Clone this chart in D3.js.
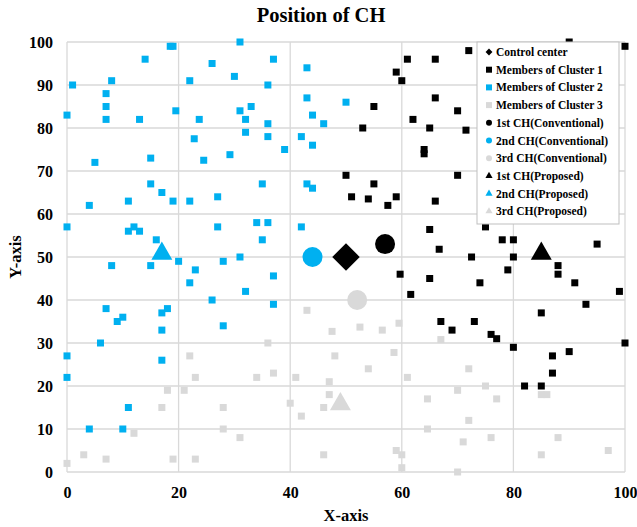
<!DOCTYPE html>
<html>
<head>
<meta charset="utf-8">
<script src="https://cdn.jsdelivr.net/npm/d3@7"></script>
<style>
  body { margin: 0; background: #fff; }
  text { font-family: "Liberation Serif", "Times New Roman", serif; font-weight: bold; }
</style>
</head>
<body>
<script>
const W = 637
const H = 527
const m = { left: 67, top: 42, right: 12, bottom: 55 }

const xTicks = [0, 20, 40, 60, 80, 100]
const yTicks = [0, 10, 20, 30, 40, 50, 60, 70, 80, 90, 100]

// members of cluster 1 (black)
const cluster1 = [
  [61, 96], [59, 93], [60, 91], [55, 85], [62, 82], [53, 80], [65, 80], [64, 75], [64, 74],
  [50, 69], [55, 67], [51, 64], [54, 63.5], [59, 64], [57.5, 62], [65, 56.4], [59.7, 46],
  [65, 45], [61.6, 41.3], [72, 98], [66, 96], [90, 100], [100, 99], [66, 87], [70, 84],
  [71.5, 79.5], [70, 69], [66, 63], [75, 57], [78, 54], [80, 54], [66.7, 51.8], [72.5, 50],
  [80, 50], [95, 53], [79, 47], [88, 48], [88, 46], [74, 44], [91, 44], [99, 42], [93, 39],
  [85, 37], [67, 35], [69, 33], [73, 35], [76, 32], [77, 31], [80, 29], [100, 30], [87, 27],
  [90, 28], [87, 23], [82, 20], [85, 20]
]

// members of cluster 2 (blue)
const cluster2 = [
  [1, 90], [0, 83], [7, 88], [7, 85], [7, 82], [8, 91], [5, 72], [14, 96], [13, 82], [15, 73],
  [15, 67], [18.5, 99], [19, 99], [19.5, 84], [22, 91], [23.7, 82], [22.8, 77.5], [24.5, 72.5],
  [26, 95], [30, 92], [29.2, 73.8], [31, 100], [37, 96], [36, 90], [43, 94], [43, 87], [50, 86],
  [31, 84], [33, 85], [32, 82], [36, 81], [44, 83], [46, 81], [32, 79], [36, 78], [42, 78],
  [44, 76], [39, 75], [35, 67], [43, 67], [44, 66], [17, 65], [19, 63], [22, 63], [27, 64],
  [11, 63], [4, 62], [0, 57], [11, 56], [12, 57], [13, 56], [27, 57], [16, 54], [15, 48],
  [20, 49], [8, 48], [28, 49], [31, 50], [23, 47], [22, 44], [26, 40], [7, 38], [9, 35],
  [10, 36], [17, 37], [18, 38], [17, 33], [28, 34], [34, 58], [36, 58], [42, 57], [35, 54],
  [37, 45.6], [32, 42], [37, 39], [6, 30], [0, 27], [0, 22], [17, 26], [11, 15], [4, 10], [10, 10]
]

// members of cluster 3 (grey)
const cluster3 = [
  [43, 37.6], [47.5, 32.7], [52.5, 33.7], [56.5, 33], [59.5, 34.6], [0, 2], [3, 4], [7, 3],
  [12, 9], [17, 15], [18, 19], [21, 19], [22, 27], [23, 22], [19, 3], [23, 3], [28, 15],
  [28, 10], [31, 8], [36, 30], [48, 27], [58.6, 27.8], [34, 22], [37, 23], [41, 22], [54, 24],
  [61, 22], [47, 21], [47, 18], [40, 16], [42, 13], [46, 15], [64.6, 17], [64.6, 10], [46, 4],
  [59, 5], [60, 4], [60, 1], [67, 30.8], [72, 24], [75, 20], [70, 19], [77, 17], [85, 18],
  [86, 18], [72, 12], [71, 7], [76, 8], [88, 8], [85, 4], [97, 5], [70, 0]
]

const controlCenter = [[50, 50]]
const chConventional = [[57, 53], [44, 50], [52, 40]]
const chProposed = [[85, 51], [17, 51], [49, 16]]

const legendLabels = [
  'Control center', 'Members of Cluster 1', 'Members of Cluster 2', 'Members of Cluster 3',
  '1st CH(Conventional)', '2nd CH(Conventional)', '3rd CH(Conventional)',
  '1st CH(Proposed)', '2nd CH(Proposed)', '3rd CH(Proposed)'
]

const colors = ['#000000', '#00b0f0', '#d9d9d9']

const svg = d3.select('body').append('svg')
  .attr('width', W)
  .attr('height', H)

const x = d3.scaleLinear().domain([0, 100]).range([m.left, W - m.right])
const y = d3.scaleLinear().domain([0, 100]).range([H - m.bottom, m.top])

// grid
svg.append('g').selectAll('line').data(xTicks).enter().append('line')
  .attr('x1', d => x(d)).attr('x2', d => x(d))
  .attr('y1', y(0)).attr('y2', y(100))
  .attr('stroke', '#d9d9d9').attr('stroke-width', 1.3)
svg.append('g').selectAll('line').data(yTicks).enter().append('line')
  .attr('x1', x(0)).attr('x2', x(100))
  .attr('y1', d => y(d)).attr('y2', d => y(d))
  .attr('stroke', '#d9d9d9').attr('stroke-width', 1.3)

// axes
const xAxis = svg.append('g')
  .attr('transform', `translate(0,${y(0)})`)
  .call(d3.axisBottom(x).tickValues(xTicks).tickSize(0).tickPadding(14.5))
const yAxis = svg.append('g')
  .attr('transform', `translate(${x(0)},0)`)
  .call(d3.axisLeft(y).tickValues(yTicks).tickSize(0).tickPadding(14))
xAxis.select('.domain').remove()
yAxis.select('.domain').remove()
svg.selectAll('.tick text')
  .attr('font-size', '16px')
  .attr('font-family', '"Liberation Serif", serif')
  .attr('font-weight', 'bold')
  .attr('fill', '#000')

// titles
svg.append('text').text('Position of CH')
  .attr('x', 321).attr('y', 22)
  .attr('text-anchor', 'middle').attr('font-size', '20.5px')
svg.append('text').text('X-axis')
  .attr('x', x(50)).attr('y', 521)
  .attr('text-anchor', 'middle').attr('font-size', '16.5px')
svg.append('text').text('Y-axis')
  .attr('transform', `translate(21,${y(50)}) rotate(-90)`)
  .attr('text-anchor', 'middle').attr('font-size', '16.5px')

// member squares
const members = [cluster1, cluster2, cluster3]
members.forEach((pts, i) => {
  svg.append('g').selectAll('rect').data(pts).enter().append('rect')
    .attr('x', d => x(d[0]) - 3.5)
    .attr('y', d => y(d[1]) - 3.5)
    .attr('width', 7).attr('height', 7)
    .attr('fill', colors[i])
})

// control center
svg.append('g').selectAll('path').data(controlCenter).enter().append('path')
  .attr('d', d3.symbol().type(d3.symbolDiamond2).size(480))
  .attr('transform', d => `translate(${x(d[0])},${y(d[1])})`)
  .attr('fill', '#000')

// cluster heads
svg.append('g').selectAll('circle').data(chConventional).enter().append('circle')
  .attr('cx', d => x(d[0])).attr('cy', d => y(d[1]))
  .attr('r', 10)
  .attr('fill', (d, i) => colors[i])
svg.append('g').selectAll('path').data(chProposed).enter().append('path')
  .attr('d', d3.symbol().type(d3.symbolTriangle).size(190))
  .attr('transform', d => `translate(${x(d[0])},${y(d[1]) + 1})`)
  .attr('fill', (d, i) => colors[i])

// legend
const lg = svg.append('g').attr('transform', 'translate(477,42)')
lg.append('rect')
  .attr('width', 142).attr('height', 182)
  .attr('fill', '#fff').attr('stroke', '#bfbfbf')
const items = lg.selectAll('g.item').data(legendLabels).enter().append('g')
  .attr('transform', (d, i) => `translate(12,${10 + i * 17.7})`)
items.append('text').text(d => d)
  .attr('x', 7).attr('y', 4)
  .attr('font-size', '11.5px')
  .attr('fill', '#000')
items.each(function (d, i) {
  const g = d3.select(this)
  if (i === 0) {
    g.append('path').attr('d', d3.symbol().type(d3.symbolDiamond2).size(30)).attr('fill', '#000')
  } else if (i <= 3) {
    g.append('rect').attr('x', -3).attr('y', -3).attr('width', 6).attr('height', 6).attr('fill', colors[i - 1])
  } else if (i <= 6) {
    g.append('circle').attr('r', 3).attr('fill', colors[i - 4])
  } else {
    g.append('path').attr('d', d3.symbol().type(d3.symbolTriangle).size(22)).attr('fill', colors[i - 7])
  }
})
</script>
</body>
</html>
